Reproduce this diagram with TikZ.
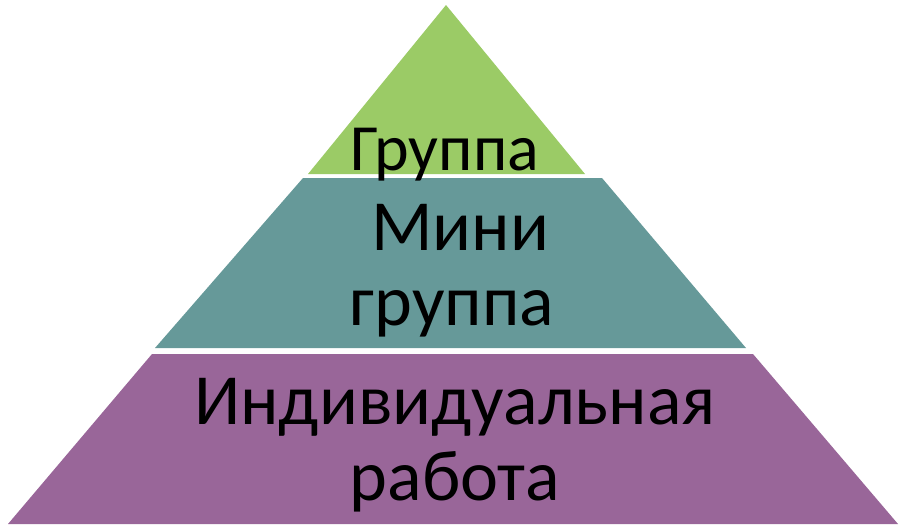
\documentclass[tikz,border=0pt]{standalone}
\usepackage{fontspec}
\setmainfont{Carlito}
\definecolor{topgreen}{RGB}{155,203,102}
\definecolor{midteal}{RGB}{102,153,153}
\definecolor{lowpurple}{RGB}{153,102,153}
\begin{document}
\begin{tikzpicture}[x=1pt, y=-1pt,
    layer/.style={draw=none},
    label/.style={anchor=base, inner sep=0pt, font=\fontsize{72}{78}\selectfont},
    toplabel/.style={label, font=\fontsize{66}{72}\selectfont}]
      \useasboundingbox (0, 0) rectangle (905, 528);

      % pyramid layers
      \fill[layer, lowpurple] (152, 354) -- (753, 354) -- (898, 524) -- (8, 524) -- cycle;
      \fill[layer, midteal] (303, 178) -- (602, 178) -- (746, 348) -- (155, 348) -- cycle;
      \fill[layer, topgreen] (446, 5) -- (585, 174) -- (308, 174) -- cycle;

      \node[toplabel] (grp) at (445, 170) {Группа};
      \node[label] (mini) at (460, 250) {Мини};
      \node[label] (minigrp) at (452, 325) {группа};
      \node[label] (indiv) at (455, 424) {Индивидуальная};
      \node[label] (work) at (455, 500) {работа};
    \end{tikzpicture}
\end{document}
